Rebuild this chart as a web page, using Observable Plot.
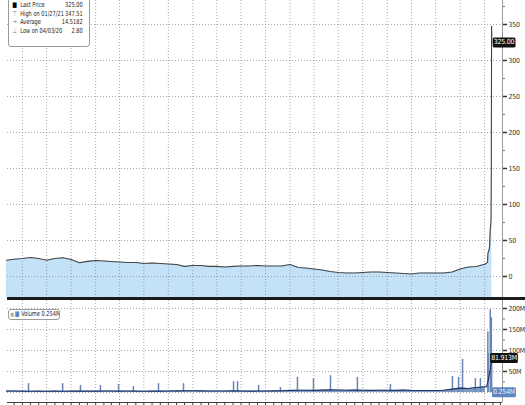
<!DOCTYPE html>
<html><head><meta charset="utf-8">
<script src="https://cdn.jsdelivr.net/npm/d3@7"></script>
<script src="https://cdn.jsdelivr.net/npm/@observablehq/plot@0.6"></script>
<style>
html,body{margin:0;padding:0;background:#fff;}
#wrap{position:relative;width:525px;height:405px;overflow:hidden;font-family:"Liberation Sans Narrow","DejaVu Sans Condensed","Liberation Sans",Arial,sans-serif;}
#wrap svg{display:block;font-family:"Liberation Sans Narrow","DejaVu Sans Condensed","Liberation Sans",Arial,sans-serif;letter-spacing:-0.25px;}
.sep{position:absolute;left:7px;top:297px;width:518px;height:3px;background:#1b1b1b;}
.leg{position:absolute;background:#fff;border:1px solid #9a9a9a;border-radius:3px;box-sizing:border-box;font-size:7px;color:#222;overflow:hidden;}
.leg .inner{transform:scaleX(0.8);transform-origin:0 0;width:125%;}
.leg .row{display:flex;height:8.7px;line-height:8.7px;white-space:nowrap;}
.leg .sym{width:14px;text-align:center;color:#555;}
.leg .lab{flex:1;}
.leg .val{text-align:right;}
</style></head>
<body><div id="wrap"></div>
<script>
// ---- data ----
const xDomain = [new Date("2016-02-05"), new Date("2021-03-09")];
const priceDomain = [-29.2, 383.3];
const volDomain = [-23.8, 219];

const months = [
 "2016-02","2016-03","2016-04","2016-05","2016-06","2016-07","2016-08","2016-09","2016-10","2016-11","2016-12",
 "2017-01","2017-02","2017-03","2017-04","2017-05","2017-06","2017-07","2017-08","2017-09","2017-10","2017-11","2017-12",
 "2018-01","2018-02","2018-03","2018-04","2018-05","2018-06","2018-07","2018-08","2018-09","2018-10","2018-11","2018-12",
 "2019-01","2019-02","2019-03","2019-04","2019-05","2019-06","2019-07","2019-08","2019-09","2019-10","2019-11","2019-12",
 "2020-01","2020-02","2020-03","2020-04","2020-05","2020-06","2020-07","2020-08","2020-09","2020-10","2020-11","2020-12"];
const priceMonthly = [
 22.5,24,25,26.4,25,22.5,25,26,23.6,19,21,
 22.2,21.5,20.8,20,19.4,19.4,18,18.7,18,17.4,16.7,14,
 15.3,15.3,14,14,13.2,14,14.6,14.6,15.3,14.6,14.6,14.6,
 16.7,12.5,11.8,10.4,9,6.9,5.6,4.9,4.9,5.6,6.2,6.2,
 5.6,4.9,4.2,3.5,4.9,4.9,4.9,4.9,6.2,10.4,13.2,13.9];
const janDays = ["2021-01-04","2021-01-12","2021-01-13","2021-01-19","2021-01-22","2021-01-25","2021-01-26","2021-01-27","2021-01-28"];
const janPrice = [17.2,19.9,31.4,39.4,65.0,76.8,148.0,347.51,325.0];

const volBase = [
 3.5,3.5,3.2,3.0,3.2,3.0,3.3,3.0,3.2,3.6,3.2,
 3.2,3.4,3.6,3.2,3.4,3.2,3.0,3.6,3.2,3.4,3.8,4.0,
 4.2,3.8,3.6,3.4,3.6,4.0,3.4,3.2,3.4,3.6,3.8,4.2,
 5.0,5.5,5.2,5.0,5.6,6.2,5.8,5.2,5.8,5.4,5.0,5.2,
 5.4,5.0,5.8,5.0,4.8,4.6,4.8,5.2,8.0,10.5,9.5,12.0];
const volSpikeDates = ["2016-04-24","2016-08-30","2016-11-05","2017-01-19","2017-03-28","2017-05-23","2017-08-25","2017-11-27",
 "2018-06-03","2018-06-18","2018-09-05","2018-11-26","2019-01-29","2019-03-30","2019-06-02","2019-09-11","2020-01-13",
 "2020-09-02","2020-09-25","2020-10-10","2020-11-27","2020-12-16","2021-01-13","2021-01-14","2021-01-22","2021-01-25","2021-01-26","2021-01-27"];
const volSpikes = [21,21,17,17,19,14,21,21,26,26,17,12,36,33,40,36,19,38,36,79,33,33,144,93,197,177,178,93];
const maJanDays = ["2021-01-08","2021-01-15","2021-01-22","2021-01-28"];
const maJan = [14,30,55,81.913];

const priceTicks = [0,50,100,150,200,250,300,350];
const priceMinor = [25,75,125,175,225,275,325,375];
const volTicks = [50,100,150,200];
const volMinor = [25,75,125,175];

const lastPrice = 325.00, highPrice = 347.51, highDate = "01/27/21", avgPrice = 14.5182, lowPrice = 2.80, lowDate = "04/03/20";
const lastVolMA = 81.913, lastVol = 0.254;

(function(){
// ---- build tables ----
const priceData = months.map((m,i)=>({date:new Date(m+"-01"),price:priceMonthly[i]}))
  .concat(janDays.map((d,i)=>({date:new Date(d),price:janPrice[i]})));
const volData = months.map((m,i)=>({date:new Date(m+"-01"),v:volBase[i]}))
  .concat([{date:new Date(janDays[0]),v:volBase[volBase.length-1]}]);
const spikeData = volSpikeDates.map((d,i)=>({date:new Date(d),v:volSpikes[i]}));
const maData = months.map((m,i)=>({date:new Date(m+"-01"),v:volBase[i]}))
  .concat(maJanDays.map((d,i)=>({date:new Date(d),v:maJan[i]})));
const quarterTicks = d3.utcMonth.every(3).range(xDomain[0], xDomain[1]);
const monthTicks = d3.utcMonth.range(xDomain[0], xDomain[1]);

const gridStyle = {stroke:"#8a8a8a", strokeDasharray:"1,2", strokeOpacity:0.75, strokeWidth:1};
const axisFont = {fontSize:7, fill:"#333"};

const wrap = document.getElementById("wrap");

const topPlot = Plot.plot({
  width:525, height:297, marginLeft:7, marginRight:23, marginTop:0, marginBottom:0,
  x:{type:"utc", domain:xDomain, axis:null},
  y:{domain:priceDomain, axis:null},
  marks:[
    Plot.areaY(priceData,{x:"date", y1:priceDomain[0], y2:"price", fill:"#c3e2f8"}),
    Plot.gridX(quarterTicks, gridStyle),
    Plot.gridY(priceTicks, gridStyle),
    Plot.lineY(priceData,{x:"date", y:"price", stroke:"#444", strokeWidth:1.1}),
    Plot.ruleX([xDomain[1]],{stroke:"#9a9a9a", strokeWidth:1}),
    Plot.axisY(priceTicks,{anchor:"right", label:null, tickSize:4, tickPadding:2, stroke:"#333", strokeWidth:1.5, ...axisFont}),
    Plot.axisY(priceMinor,{anchor:"right", label:null, tickSize:2, stroke:"#777", tickFormat:()=>""})
  ]
});
wrap.appendChild(topPlot);

const sep = document.createElement("div"); sep.className="sep"; wrap.appendChild(sep);

const botHolder = document.createElement("div");
botHolder.style.cssText = "position:absolute;left:0;top:300px;";
wrap.appendChild(botHolder);
const botPlot = Plot.plot({
  width:525, height:105, marginLeft:7, marginRight:23, marginTop:0, marginBottom:3,
  x:{type:"utc", domain:xDomain, axis:null},
  y:{domain:volDomain, axis:null},
  marks:[
    Plot.gridX(quarterTicks, gridStyle),
    Plot.gridY([0, ...volTicks], gridStyle),
    Plot.areaY(volData,{x:"date", y1:0, y2:"v", fill:"#7f9bc4"}),
    Plot.ruleX(spikeData,{x:"date", y1:0, y2:"v", stroke:"#6784b2", strokeWidth:1.5}),
    Plot.lineY(maData,{x:"date", y:"v", stroke:"#1d3563", strokeWidth:1.1}),
    Plot.ruleY([volDomain[0]],{stroke:"#444", strokeWidth:1}),
    Plot.axisX(monthTicks,{anchor:"bottom", label:null, tickSize:3, stroke:"#444", tickFormat:()=>""}),
    Plot.ruleX([xDomain[1]],{stroke:"#9a9a9a", strokeWidth:1}),
    Plot.axisY(volTicks,{anchor:"right", label:null, tickSize:4, tickPadding:2, stroke:"#333", strokeWidth:1.5, tickFormat:d=>d+"M", ...axisFont}),
    Plot.axisY(volMinor,{anchor:"right", label:null, tickSize:2, stroke:"#777", tickFormat:()=>""})
  ]
});
botHolder.appendChild(botPlot);

// value badges on the right axis, positioned with the plots' own scales
function badge(plot, value, label, bg, fg){
  const svg = d3.select(plot.tagName.toLowerCase()==="svg" ? plot : plot.querySelector("svg"));
  const y = plot.scale("y").apply(value);
  const x = plot.scale("x").apply(xDomain[1]) + 2;
  const g = svg.append("g");
  const t = g.append("text").attr("x",x).attr("y",y).attr("dy","0.35em")
    .attr("font-size",7).attr("fill",fg).text(label);
  const bb = t.node().getBBox();
  g.insert("rect","text").attr("x",bb.x-1).attr("y",bb.y-1).attr("width",bb.width+2).attr("height",bb.height+2)
    .attr("rx",1.5).attr("fill",bg);
}
badge(topPlot, lastPrice, lastPrice.toFixed(2), "#111", "#fff");
badge(botPlot, lastVolMA, lastVolMA.toFixed(3)+"M", "#111", "#fff");
badge(botPlot, lastVol, lastVol.toFixed(3)+"M", "#5f86c0", "#eef");

// legends
const leg = document.createElement("div");
leg.className = "leg";
leg.style.cssText = "left:8px;top:-3px;width:82px;height:50px;padding:3px 0 0 0;";
const rows = [
  ["■","Last Price", lastPrice.toFixed(2), "#000"],
  ["⊤","High on "+highDate, highPrice.toFixed(2), "#777"],
  ["→","Average", avgPrice.toFixed(4), "#777"],
  ["⊥","Low on "+lowDate, lowPrice.toFixed(2), "#777"]
];
leg.innerHTML = `<div class="inner" style="padding-right:8px;box-sizing:border-box">` +
  rows.map(r=>`<div class="row"><span class="sym" style="color:${r[3]}">${r[0]}</span><span class="lab">${r[1]}</span><span class="val">${r[2]}</span></div>`).join("") +
  `</div>`;
wrap.appendChild(leg);

const vleg = document.createElement("div");
vleg.className = "leg";
vleg.style.cssText = "left:8px;top:309px;width:52px;height:11px;";
vleg.innerHTML = `<div class="inner" style="padding-left:2px"><div class="row" style="height:9px;line-height:9px"><span style="color:#aaa;font-size:5px;margin-right:1px">■</span><span style="color:#5f86c0;margin-right:2px">■</span><span>Volume ${lastVol.toFixed(3)}M</span></div></div>`;
wrap.appendChild(vleg);
})();
</script>
</body></html>
